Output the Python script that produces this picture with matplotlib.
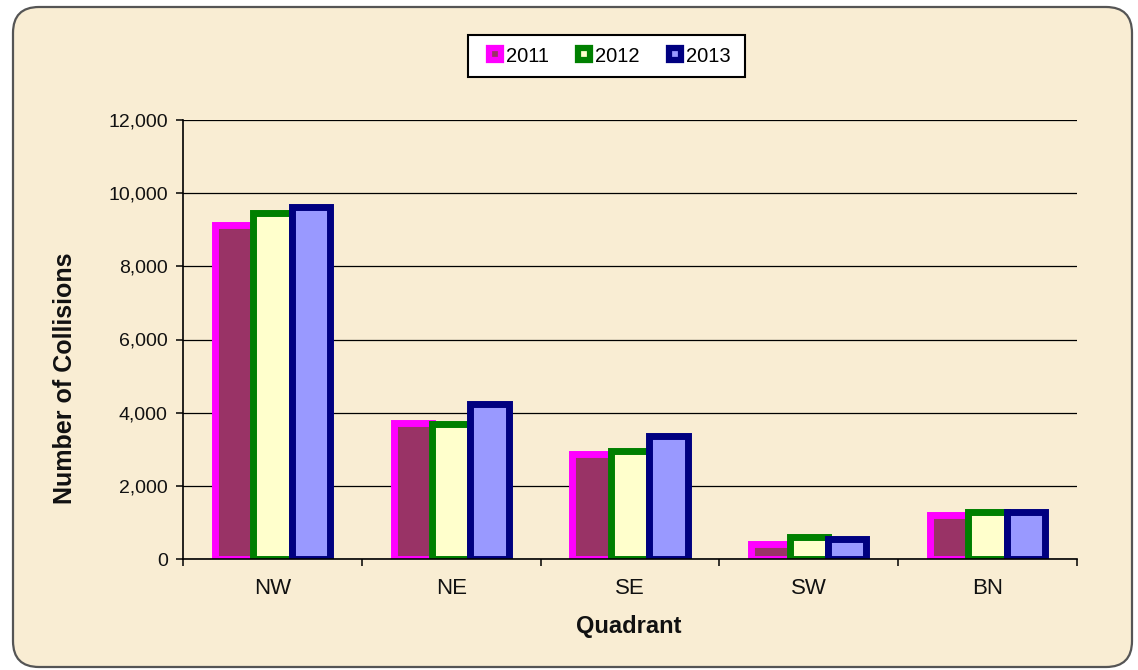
import matplotlib
matplotlib.use("Agg")
import matplotlib.pyplot as plt
from matplotlib.patches import FancyBboxPatch, Rectangle
from matplotlib.lines import Line2D
from matplotlib.transforms import IdentityTransform
from matplotlib.ticker import FuncFormatter, FixedLocator
import numpy as np

plt.rcParams['font.family'] = ['Liberation Sans', 'DejaVu Sans']

categories = ["NW", "NE", "SE", "SW", "BN"]
years = ["2011", "2012", "2013"]
values_2011 = [9120, 3730, 2870, 400, 1215]
values_2012 = [9470, 3680, 2950, 600, 1285]
values_2013 = [9620, 4240, 3360, 560, 1280]
y_ticks = [0, 2000, 4000, 6000, 8000, 10000, 12000]

series = [values_2011, values_2012, values_2013]
fills = ["#993366", "#FFFFCC", "#9999FF"]
edges = ["#FF00FF", "#008000", "#000080"]

W, H = 1138, 670
fig = plt.figure(figsize=(W / 100, H / 100), dpi=100, facecolor="white")

# rounded parchment panel
panel = FancyBboxPatch((13, 3), 1119, 660,
                       boxstyle="round,pad=0,rounding_size=26",
                       transform=IdentityTransform(),
                       facecolor="#F9EDD3", edgecolor="#555555", lw=1.6,
                       zorder=-5)
fig.patches.append(panel)

ax = fig.add_axes([183 / W, 1 - 559 / H, (1077 - 183) / W, (559 - 120) / H])
ax.patch.set_alpha(0)
ax.set_zorder(2)

x = np.arange(len(categories))
bw = 0.215
for i, (vals, fc, ec) in enumerate(zip(series, fills, edges)):
    ax.bar(x + (i - 1) * bw, vals, width=bw, color=fc, edgecolor=ec,
           linewidth=5, joinstyle="miter", zorder=3 + i)

ax.set_xlim(-0.5, len(categories) - 0.5)
ax.set_ylim(0, 12000)
ax.set_yticks(y_ticks)
ax.yaxis.set_major_formatter(FuncFormatter(lambda v, p: f"{int(v):,}"))
ax.grid(axis="y", color="black", lw=0.9, zorder=1)
ax.set_axisbelow(True)

ax.set_xticks(x)
ax.set_xticklabels(categories)
ax.xaxis.set_minor_locator(FixedLocator(np.arange(-0.5, len(categories), 1.0)))
ax.tick_params(axis="x", which="major", length=0, pad=14, labelsize=16,
               labelcolor="#111111")
ax.tick_params(axis="x", which="minor", length=5, width=1.1, color="black",
               direction="out")
ax.tick_params(axis="y", length=5, width=1.1, direction="out", pad=6,
               labelsize=14, labelcolor="#111111")

for s in ["top", "right"]:
    ax.spines[s].set_visible(False)
for s in ["left", "bottom"]:
    ax.spines[s].set_color("black")
    ax.spines[s].set_linewidth(1.2)
    ax.spines[s].set_zorder(10)

fig.text(65 / W, 1 - 378 / H, "Number of Collisions", rotation=90,
         ha="center", va="center", fontsize=18, fontweight="bold",
         color="#111111")
fig.text(629 / W, 1 - 627 / H, "Quadrant", ha="center", va="center",
         fontsize=17, fontweight="bold", color="#111111")

# legend box
fig.patches.append(Rectangle((468 / W, 1 - 77 / H), (745 - 468) / W, 42 / H,
                             transform=fig.transFigure, facecolor="white",
                             edgecolor="black", lw=1.5, zorder=4))
handles = [Line2D([], [], linestyle="none", marker="s", markersize=8.5,
                  markerfacecolor=fc, markeredgecolor=ec, markeredgewidth=4.5)
           for fc, ec in zip(fills, edges)]
leg = fig.legend(handles, years, loc="center", bbox_to_anchor=(608 / W, 1 - 56 / H),
                 ncol=3, frameon=False, fontsize=14.5, handlelength=0.9,
                 handletextpad=0.1, columnspacing=1.3, borderpad=0)
leg.set_zorder(6)

fig.savefig("out.png", dpi=100, facecolor="white")
